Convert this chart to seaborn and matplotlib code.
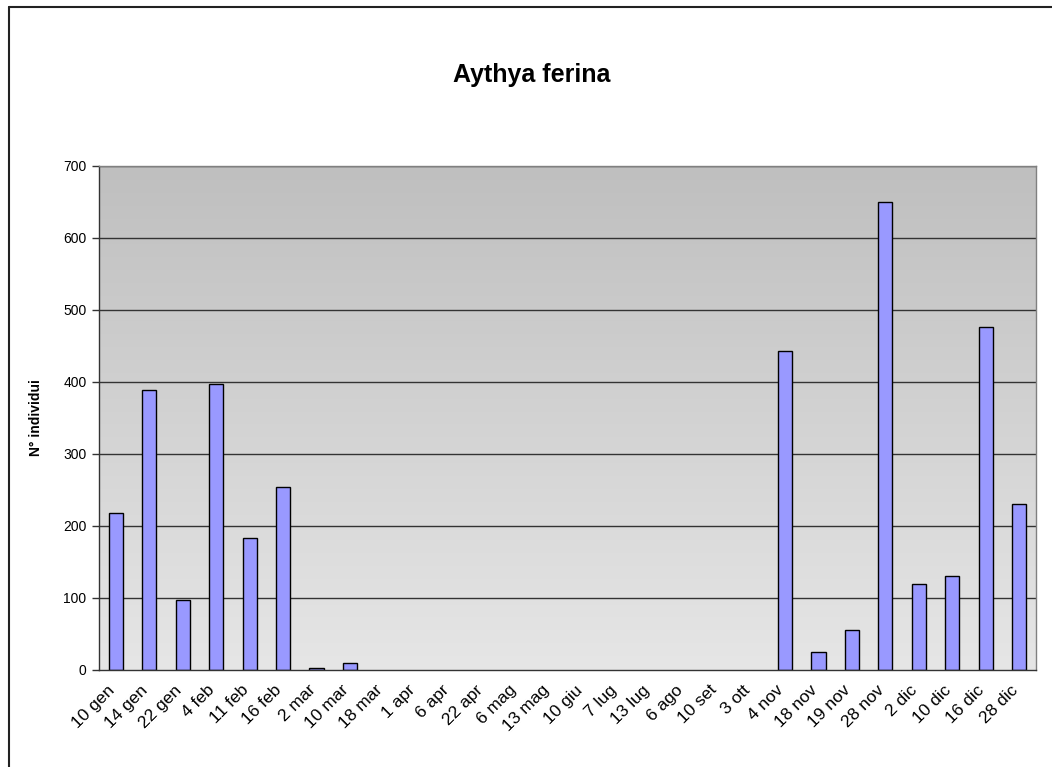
import numpy as np
import pandas as pd
import matplotlib
matplotlib.use("Agg")
import matplotlib.pyplot as plt
import matplotlib.transforms as mtransforms
import seaborn as sns
from matplotlib.lines import Line2D
from matplotlib.colors import LinearSegmentedColormap

# --- data ---
dates = ["10 gen", "14 gen", "22 gen", "4 feb", "11 feb", "16 feb", "2 mar", "10 mar",
         "18 mar", "1 apr", "6 apr", "22 apr", "6 mag", "13 mag", "10 giu", "7 lug",
         "13 lug", "6 ago", "10 set", "3 ott", "4 nov", "18 nov", "19 nov", "28 nov",
         "2 dic", "10 dic", "16 dic", "28 dic"]
counts = [218, 389, 97, 397, 183, 254, 3, 9,
          0, 0, 0, 0, 0, 0, 0, 0,
          0, 0, 0, 0, 443, 25, 55, 650,
          119, 131, 476, 231]
y_ticks = [0, 100, 200, 300, 400, 500, 600, 700]

df = pd.DataFrame({"data": dates, "n": counts})

sns.set_theme(style="white")
plt.rcParams["font.family"] = ["Liberation Sans", "DejaVu Sans"]
plt.rcParams["text.color"] = "black"
plt.rcParams["axes.labelcolor"] = "black"

fig = plt.figure(figsize=(10.52, 7.67), dpi=100)
ax = fig.add_axes([0.0941, 0.1265, 0.8907, 0.6571])

# gradient background, darker at the top
grad = LinearSegmentedColormap.from_list("bg", ["#e6e6e6", "#bfbfbf"])
ax.imshow(np.linspace(0, 1, 256).reshape(-1, 1), cmap=grad, origin="lower",
          aspect="auto", extent=(-0.5, len(dates) - 0.5, 0, 700), zorder=0)

for t in y_ticks[1:]:
    ax.axhline(t, color="#333333", lw=1, zorder=1)

sns.barplot(data=df, x="data", y="n", color="#9999ff", saturation=1, width=0.42,
            edgecolor="black", linewidth=1, ax=ax, zorder=2)
# empty counts leave no visible mark
for p in ax.patches:
    if p.get_height() == 0:
        p.set_linewidth(0)

ax.set_xlim(-0.5, len(dates) - 0.5)
ax.set_ylim(0, 700)
ax.set_yticks(y_ticks)
ax.set_yticklabels([str(v) for v in y_ticks], fontsize=10)
ax.set_xticks(range(len(dates)))
ax.set_xticklabels(dates, rotation=45, ha="right", rotation_mode="anchor", fontsize=12.5)
ax.set_xticks(np.arange(-0.5, len(dates), 1), minor=True)
ax.tick_params(axis="x", which="major", length=0, pad=9, labelcolor="black")
ax.tick_params(axis="x", which="minor", length=5, width=1, color="#333333", direction="out")
ax.tick_params(axis="y", length=5, width=1, color="#333333", direction="out", left=True,
               pad=4, labelcolor="black")

# shift the slanted labels a little to the left, as in the original
shift = mtransforms.ScaledTranslation(-9 / 100, 0, fig.dpi_scale_trans)
for lbl in ax.get_xticklabels():
    lbl.set_transform(lbl.get_transform() + shift)

ax.set_xlabel("")
ax.set_ylabel("N° individui", fontsize=10, fontweight="bold")
ax.yaxis.set_label_coords(-0.06, 0.5)

for side in ["left", "bottom"]:
    ax.spines[side].set_color("#333333")
    ax.spines[side].set_linewidth(1)
for side in ["top", "right"]:
    ax.spines[side].set_color("#808080")
    ax.spines[side].set_linewidth(1)

fig.text(0.505, 1 - 75 / 767, "Aythya ferina", ha="center", va="center",
         fontsize=18, fontweight="bold", color="black")

# chart-area frame (top and left edges visible)
fig.add_artist(Line2D([8.5 / 1052, 1.0], [1 - 6.5 / 767] * 2, color="#222222", lw=1.5))
fig.add_artist(Line2D([8.5 / 1052] * 2, [0.0, 1 - 6.5 / 767], color="#222222", lw=1.5))

fig.savefig("out.png", dpi=100)
